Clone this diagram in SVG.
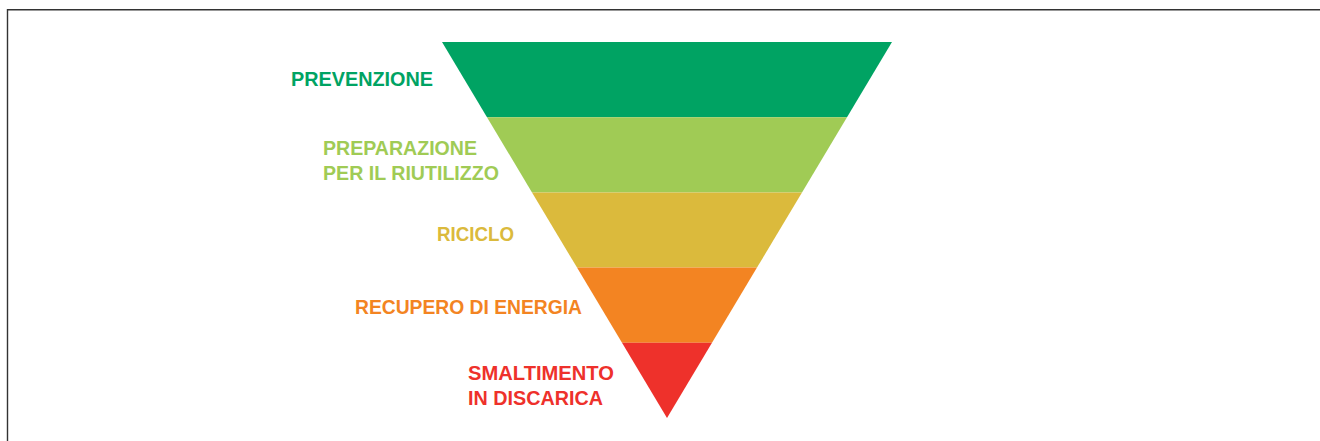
<svg xmlns="http://www.w3.org/2000/svg" width="1320" height="441" viewBox="0 0 1320 441">
<style>
.lbl{font-family:"Liberation Sans",Arial,sans-serif;font-weight:700;font-size:21px}
</style>
<rect width="1320" height="441" fill="#ffffff"/>
<path d="M7.5 441 V9.8 H1320" fill="none" stroke="#333" stroke-width="1.4"/>
<g id="prevenzione">
<polygon points="442,42 892,42 847,117.2 487,117.2" fill="#00A363"/>
<text class="lbl" x="291" y="86" fill="#00A363" textLength="142" lengthAdjust="spacingAndGlyphs">PREVENZIONE</text>
</g>
<g id="preparazione">
<polygon points="487,117.2 847,117.2 802,192.4 532,192.4" fill="#A0CB55"/>
<text class="lbl" x="323" y="155" fill="#A0CB55" textLength="154" lengthAdjust="spacingAndGlyphs">PREPARAZIONE</text>
<text class="lbl" x="323" y="180" fill="#A0CB55" textLength="176" lengthAdjust="spacingAndGlyphs">PER IL RIUTILIZZO</text>
</g>
<g id="riciclo">
<polygon points="532,192.4 802,192.4 757,267.6 577,267.6" fill="#DBBA3C"/>
<text class="lbl" x="437" y="241" fill="#DBBA3C" textLength="77" lengthAdjust="spacingAndGlyphs">RICICLO</text>
</g>
<g id="recupero">
<polygon points="577,267.6 757,267.6 712,342.8 622,342.8" fill="#F38422"/>
<text class="lbl" x="355" y="314" fill="#F38422" textLength="227" lengthAdjust="spacingAndGlyphs">RECUPERO DI ENERGIA</text>
</g>
<g id="smaltimento">
<polygon points="622,342.8 712,342.8 667,418" fill="#EE312B"/>
<text class="lbl" x="468" y="380" fill="#EE312B" textLength="146" lengthAdjust="spacingAndGlyphs">SMALTIMENTO</text>
<text class="lbl" x="468" y="405" fill="#EE312B" textLength="135" lengthAdjust="spacingAndGlyphs">IN DISCARICA</text>
</g>
<g id="connectors"></g>
</svg>
